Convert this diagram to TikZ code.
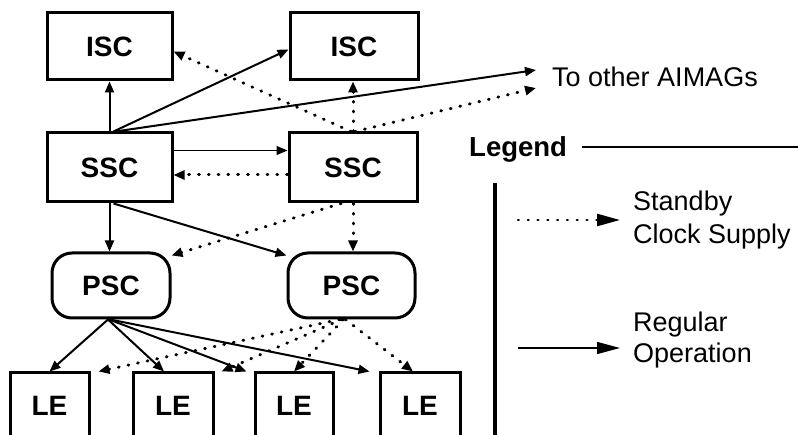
\documentclass[tikz,border=0pt]{standalone}
\usepackage{fontspec}
\setmainfont{Liberation Sans}
\usetikzlibrary{arrows.meta}
\begin{document}
\begin{tikzpicture}[x=1pt,y=-1pt,
  box/.style={draw, line width=3pt, minimum height=67pt, inner sep=0pt,
    font=\fontsize{28}{30}\selectfont\bfseries},
  reg/.style={line width=2pt, -{Triangle[length=11pt,width=9pt]}},
  sby/.style={line width=3pt, dash pattern=on 0.8pt off 9pt, line cap=round,
    -{Triangle[length=11pt,width=9pt]}},
  lgtip/.style={-{Triangle[length=23pt,width=12pt]}},
  txt/.style={inner sep=0pt, font=\fontsize{27}{33}\selectfont}
]
\useasboundingbox (0,0) rectangle (798,435);
\clip (0,0) rectangle (798,435);
\fill[white] (0,0) rectangle (798,435);

% boxes
\node[box, minimum width=125pt] (isc1) at (109.5,46.5) {ISC};
\node[box, minimum width=128pt] (isc2) at (354,46.5) {ISC};
\node[box, minimum width=125pt, minimum height=69pt] (ssc1) at (109.5,167.5) {SSC};
\node[box, minimum width=128pt, minimum height=69pt] (ssc2) at (353,167.5) {SSC};
\node[box, rounded corners=20pt, minimum width=118pt, minimum height=65pt] (psc1) at (111,285.5) {PSC};
\node[box, rounded corners=20pt, minimum width=127pt, minimum height=65pt] (psc2) at (351.5,285.5) {PSC};
\node[box, minimum width=79pt, minimum height=66pt] (le1) at (49.5,406) {LE};
\node[box, minimum width=80pt, minimum height=66pt] (le2) at (173,406) {LE};
\node[box, minimum width=78pt, minimum height=66pt] (le3) at (294,406) {LE};
\node[box, minimum width=80pt, minimum height=66pt] (le4) at (420,406) {LE};

% other AIMAGs
\node[txt, anchor=base west] (aim) at (552,87) {To other AIMAGs};
\coordinate (aimS) at (536,70);
\coordinate (aimD) at (536,88);

% regular operation
\draw[reg] (ssc1.north) -- (ssc1.north |- isc1.south);
\draw[reg] ([xshift=4pt]ssc1.north) -- ([yshift=-3pt]isc2.west);
\draw[reg] ([xshift=6pt]ssc1.north) -- (aimS);
\draw[reg, line width=1.2pt] ([yshift=17pt]ssc1.east) -- ([yshift=17pt]ssc2.west);
\draw[reg] (ssc1.south) -- (ssc1.south |- psc1.north);
\draw[reg] ([xshift=4pt]ssc1.south) -- ([yshift=-4pt]psc2.north west);
\draw[reg] ([xshift=-3pt]psc1.south) -- (le1.north);
\draw[reg] ([xshift=-3pt]psc1.south) -- ([xshift=-9pt]le2.north);
\draw[reg] ([xshift=-2pt]psc1.south) -- ([xshift=-7pt]le3.north west);
\draw[reg] ([xshift=-1pt]psc1.south) -- ([xshift=-9pt]le4.north west);

% standby clock supply
\draw[sby] ([xshift=-2pt]ssc2.north) -- ([yshift=-5pt]isc1.east);
\draw[sby] (ssc2.north) -- (ssc2.north |- isc2.south);
\draw[sby] ([xshift=2pt]ssc2.north) -- (aimD);
\draw[sby] ([yshift=-7.5pt]ssc2.west) -- ([yshift=-7.5pt]ssc1.east);
\draw[sby] ([xshift=-12pt]ssc2.south) -- ([yshift=-4pt]psc1.north east);
\draw[sby] (ssc2.south) -- (ssc2.south |- psc2.north);
\draw[sby] ([xshift=-12pt]psc2.south) -- ([xshift=8pt]le1.north east);
\draw[sby] ([xshift=-10pt]psc2.south) -- ([xshift=7pt]le2.north east);
\draw[sby] ([xshift=-8pt]psc2.south) -- (le3.north);
\draw[sby] ([xshift=-6pt]psc2.south) -- ([xshift=-7pt]le4.north);

% legend
\node[inner sep=0pt, anchor=base west, font=\fontsize{27.5}{30}\selectfont\bfseries] (legend) at (469,157) {Legend};
\coordinate (lgEnd) at (798,147);
\draw[line width=1.8pt] ([xshift=15pt]legend.east |- lgEnd) -- (lgEnd);
\coordinate (barTop) at (495,183);
\coordinate (barBot) at (495,440);
\draw[line width=4.5pt] (barTop) -- (barBot);

\node[txt, anchor=west, align=left] (sbytxt) at (633,220.5) {Standby\\Clock Supply};
\coordinate (ls1a) at (518,220);
\coordinate (ls1b) at (620,220);
\draw[sby, line width=2.5pt, lgtip] (ls1a) -- (ls1b);

\node[txt, anchor=west, align=left, font=\fontsize{27}{31}\selectfont] (regtxt) at (633,340.5) {Regular\\Operation};
\coordinate (ls2a) at (518,348);
\coordinate (ls2b) at (620,348);
\draw[line width=1.4pt, lgtip] (ls2a) -- (ls2b);
\end{tikzpicture}
\end{document}
